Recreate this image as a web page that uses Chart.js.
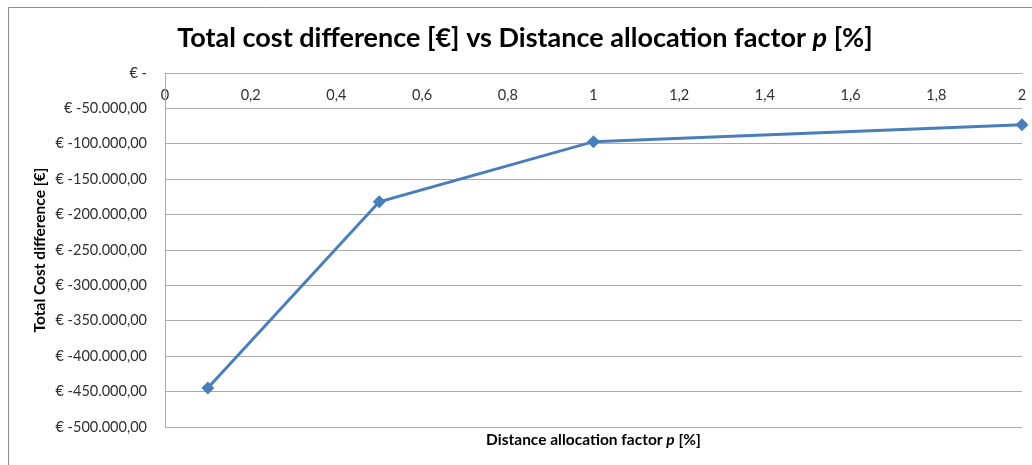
<!DOCTYPE html>
<html>
<head>
<meta charset="utf-8">
<script src="https://cdn.jsdelivr.net/npm/chart.js@4/dist/chart.umd.min.js"></script>
<style>
  html, body { margin: 0; padding: 0; background: #fff; }
  #wrap { width: 1032px; height: 465px; position: relative; }
</style>
</head>
<body>
<div id="wrap"><canvas id="c" width="1032" height="465"></canvas></div>
<script>
// Distance allocation factor p [%]
const factorP = [0.1, 0.5, 1, 2];
// Total cost difference [€]
const costDifference = [-445000, -182000, -97000, -73000];
// Axis ranges and steps
const xRange = [0, 2];
const xStep = 0.2;
const yRange = [-500000, 0];
const yStep = 50000;

const titleText = ['Total cost difference [€] vs Distance allocation factor ', 'p', ' [%]'];
const xTitleText = ['Distance allocation factor ', 'p', ' [%]'];
const yTitleText = 'Total Cost difference [€]';

const FONT = 'Lato, "Open Sans", sans-serif';
const TICK_COLOR = '#303030';

function euro(v) {
  if (v === 0) return '€ -';
  const abs = Math.abs(v);
  const intPart = String(Math.round(abs)).replace(/\B(?=(\d{3})+(?!\d))/g, '.');
  return '€ ' + (v < 0 ? '-' : '') + intPart + ',00';
}
function decimalComma(v) {
  const r = Math.round(v * 10) / 10;
  return String(r).replace('.', ',');
}

// draws text runs where the middle run is italic, centred on (cx, cy)
function drawMixed(ctx, parts, size, cx, cy) {
  const fonts = parts.map((_, i) => (i === 1 ? 'italic bold ' : 'bold ') + size + 'px ' + FONT);
  let total = 0;
  const widths = parts.map((t, i) => { ctx.font = fonts[i]; const w = ctx.measureText(t).width; total += w; return w; });
  let x = cx - total / 2;
  ctx.textBaseline = 'middle';
  ctx.textAlign = 'left';
  parts.forEach((t, i) => { ctx.font = fonts[i]; ctx.fillText(t, x, cy); x += widths[i]; });
}

const decorations = {
  id: 'decorations',
  beforeDraw(chart) {
    const ctx = chart.ctx;
    ctx.save();
    ctx.strokeStyle = '#8c8c8c';
    ctx.lineWidth = 1;
    ctx.beginPath();
    ctx.moveTo(8.5, 470);
    ctx.lineTo(8.5, 7.5);
    ctx.lineTo(1040, 7.5);
    ctx.stroke();
    ctx.restore();
  },
  afterDraw(chart) {
    const ctx = chart.ctx;
    const area = chart.chartArea;
    ctx.save();
    ctx.fillStyle = '#000';
    drawMixed(ctx, titleText, 27, 525, 38);
    drawMixed(ctx, xTitleText, 15.5, (area.left + area.right) / 2, 440);
    ctx.translate(40, 250);
    ctx.rotate(-Math.PI / 2);
    ctx.font = 'bold 15.5px ' + FONT;
    ctx.textAlign = 'center';
    ctx.textBaseline = 'middle';
    ctx.fillText(yTitleText, 0, 0);
    ctx.restore();
  }
};

function noPadding(s) {
  s.paddingLeft = 0; s.paddingRight = 0; s.paddingTop = 0; s.paddingBottom = 0;
}

new Chart(document.getElementById('c'), {
  type: 'line',
  data: {
    datasets: [{
      data: factorP.map((x, i) => ({ x: x, y: costDifference[i] })),
      borderColor: '#4a7ebb',
      backgroundColor: '#4a7ebb',
      borderWidth: 3,
      pointStyle: 'rectRot',
      pointRadius: 6.5,
      pointBorderWidth: 0,
      tension: 0,
      clip: false
    }]
  },
  options: {
    responsive: false,
    animation: false,
    layout: { padding: { left: 0, top: 73, right: 10, bottom: 38 } },
    plugins: { legend: { display: false }, tooltip: { enabled: false }, title: { display: false } },
    scales: {
      x: {
        type: 'linear',
        position: 'top',
        min: xRange[0],
        max: xRange[1],
        ticks: {
          stepSize: xStep,
          mirror: true,
          padding: 14,
          maxRotation: 0,
          autoSkip: false,
          color: TICK_COLOR,
          font: { family: FONT, size: 14.5 },
          callback: v => decimalComma(v)
        },
        grid: { display: false, drawTicks: false },
        border: { display: true, color: '#aaaaaa', width: 1 },
        afterFit: s => { s.height = 0; noPadding(s); }
      },
      y: {
        type: 'linear',
        position: 'left',
        min: yRange[0],
        max: yRange[1],
        ticks: {
          stepSize: yStep,
          padding: 18,
          color: TICK_COLOR,
          font: { family: FONT, size: 14.5 },
          callback: v => euro(v)
        },
        grid: { color: '#aaaaaa', drawTicks: false, lineWidth: 1 },
        border: { display: true, color: '#aaaaaa', width: 1 },
        afterFit: s => { s.width = 165; noPadding(s); }
      }
    }
  },
  plugins: [decorations]
});
</script>
</body>
</html>
